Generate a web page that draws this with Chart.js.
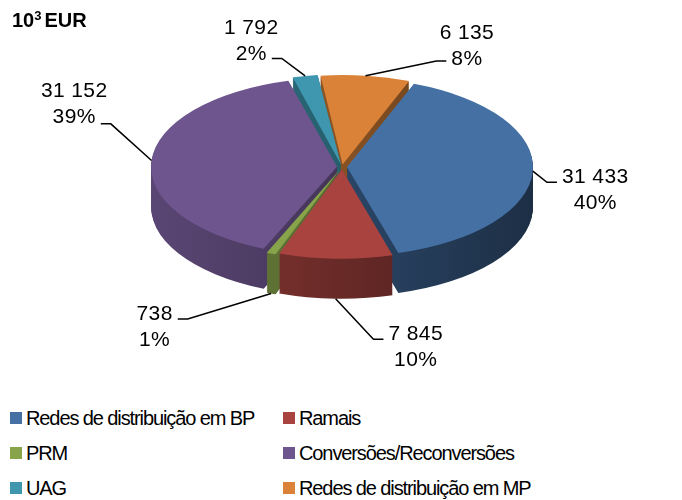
<!DOCTYPE html>
<html>
<head>
<meta charset="utf-8">
<script src="https://cdn.jsdelivr.net/npm/chart.js@4.4.0/dist/chart.umd.min.js"></script>
<style>
  body { margin: 0; width: 682px; height: 500px; background: #fff; position: relative; overflow: hidden;
         font-family: "Liberation Sans", Arial, sans-serif; color: #000; }
  #wrap { position: absolute; left: 0; top: 0; width: 682px; height: 390px; }
  #title { position: absolute; left: 12px; top: 10px; font-size: 20px; line-height: 20px; font-weight: bold; }
  #title .sup { font-size: 13px; position: relative; top: -7px; margin-right: 3px; }
  .item { position: absolute; display: flex; align-items: center; font-size: 20px; line-height: 20px;
          letter-spacing: -1.1px; white-space: nowrap; }
  .box { width: 12px; height: 12px; margin-right: 4px; flex: none; }
</style>
</head>
<body>
<div id="wrap"><canvas id="pie" width="682" height="390"></canvas></div>
<div id="title">10<span class="sup">3</span>EUR</div>
<div id="legend"></div>
<script>
// data
const categories = ['Redes de distribuição em BP', 'Ramais', 'PRM', 'Conversões/Reconversões', 'UAG', 'Redes de distribuição em MP'];
const values = [31433, 7845, 738, 31152, 1792, 6135];

// look
const topColors = ['#4470A4', '#A8433F', '#87A44B', '#6E558E', '#3E97AE', '#DA8238'];
const labelShift = [8.5, -13.2, 8.0, 22.5, -8.2, 19.7];   // degrees off the slice middle
const labelReach = [1.36, 2.03, 2.0, 1.58, 1.45, 1.48];   // times the pie radius
const centerX = 342, centerY = 167, tilt = 0.48, depth = 40;

const total = values.reduce((a, b) => a + b, 0);
const fmt = v => v.toString().replace(/\B(?=(\d{3})+(?!\d))/g, ' ');
const pct = v => Math.round(v / total * 100) + '%';

//--- Helpers ---//
function shade(hex, f) {
    const n = parseInt(hex.slice(1), 16);
    const r = Math.round((n >> 16 & 255) * f), g = Math.round((n >> 8 & 255) * f), b = Math.round((n & 255) * f);
    return `rgb(${r},${g},${b})`;
}
function project(ctx, arc, d) {
    ctx.translate(centerX, centerY + d);
    ctx.scale(1, tilt);
    ctx.translate(-arc.x, -arc.y);
}
// screen point on the rim of a slice (same offset as ArcElement.draw)
function rimPoint(arc, angle, reach, d) {
    const t = (arc.options.offset || 0) / 4;
    const mid = (arc.startAngle + arc.endAngle) / 2;
    const fix = 1 - Math.sin(Math.min(Math.PI, arc.circumference));
    const rad = arc.outerRadius + t * fix;
    return {
        x: centerX + t * Math.cos(mid) + rad * reach * Math.cos(angle),
        y: centerY + tilt * (t * Math.sin(mid) + rad * reach * Math.sin(angle)) + d
    };
}
//--------------//

const pie3d = {
    id: 'pie3d',
    beforeDatasetsDraw(chart) {
        const ctx = chart.ctx;
        const arcs = chart.getDatasetMeta(0).data;
        const sides = arcs.map((arc, i) => {
            const g = ctx.createLinearGradient(arc.x - arc.outerRadius, 0, arc.x + arc.outerRadius, 0);
            g.addColorStop(0, shade(topColors[i], 0.82));
            g.addColorStop(0.5, shade(topColors[i], 0.62));
            g.addColorStop(1, shade(topColors[i], 0.42));
            const side = Object.create(arc);
            side.options = Object.assign({}, arc.options, {backgroundColor: g, borderWidth: 0});
            return side;
        });
        for (let d = depth; d >= 1; d--) {
            sides.forEach((side, i) => {
                ctx.save();
                project(ctx, arcs[i], d);
                side.draw(ctx);
                ctx.restore();
            });
        }
        ctx.save();
        project(ctx, arcs[0], 0);
    },
    afterDatasetsDraw(chart) {
        const ctx = chart.ctx;
        ctx.restore();
        const arcs = chart.getDatasetMeta(0).data;
        ctx.save();
        ctx.font = '21px "Liberation Sans", Arial, sans-serif';
        ctx.letterSpacing = '0.4px';
        ctx.fillStyle = '#000';
        ctx.strokeStyle = '#000';
        ctx.lineWidth = 1.5;
        ctx.textAlign = 'center';
        ctx.textBaseline = 'middle';
        arcs.forEach((arc, i) => {
            const mid = (arc.startAngle + arc.endAngle) / 2;
            const front = Math.sin(mid) > 0.3;
            const a = rimPoint(arc, mid, 1, front ? depth : 0);
            const la = mid + labelShift[i] * Math.PI / 180;
            const c = rimPoint(arc, la, labelReach[i], 0);
            const lines = [fmt(values[i]), pct(values[i])];
            const ty = c.y + Math.max(-8, Math.min(20, (a.y - c.y) * 0.5));
            const w = ctx.measureText(ty > c.y ? lines[1] : lines[0]).width;
            let end, elbow;
            if (a.x < c.x - w / 2) {
                end = c.x - w / 2 - 5; elbow = end - 10;
            } else {
                end = c.x + w / 2 + 5; elbow = end + 10;
            }
            ctx.beginPath();
            ctx.moveTo(a.x, a.y);
            ctx.lineTo(elbow, ty);
            ctx.lineTo(end, ty);
            ctx.stroke();
            ctx.fillText(lines[0], c.x, c.y - 13);
            ctx.fillText(lines[1], c.x, c.y + 13);
        });
        ctx.restore();
    }
};

function buildLegend() {
    const legend = document.getElementById('legend');
    categories.forEach((name, i) => {
        const item = document.createElement('div');
        item.className = 'item';
        item.style.left = (i % 2 ? 283 : 10) + 'px';
        item.style.top = (408 + Math.floor(i / 2) * 35) + 'px';
        item.innerHTML = `<span class="box" style="background:${topColors[i]}"></span><span>${name}</span>`;
        legend.appendChild(item);
    });
}

new Chart(document.getElementById('pie'), {
    type: 'pie',
    data: {
        labels: categories,
        datasets: [{
            data: values,
            backgroundColor: topColors,
            borderWidth: 0,
            offset: 20,
            radius: 184,
            rotation: 21,
            clip: false
        }]
    },
    options: {
        responsive: false,
        animation: false,
        events: [],
        plugins: {
            legend: { display: false },
            tooltip: { enabled: false }
        }
    },
    plugins: [pie3d]
});
buildLegend();
</script>
</body>
</html>
